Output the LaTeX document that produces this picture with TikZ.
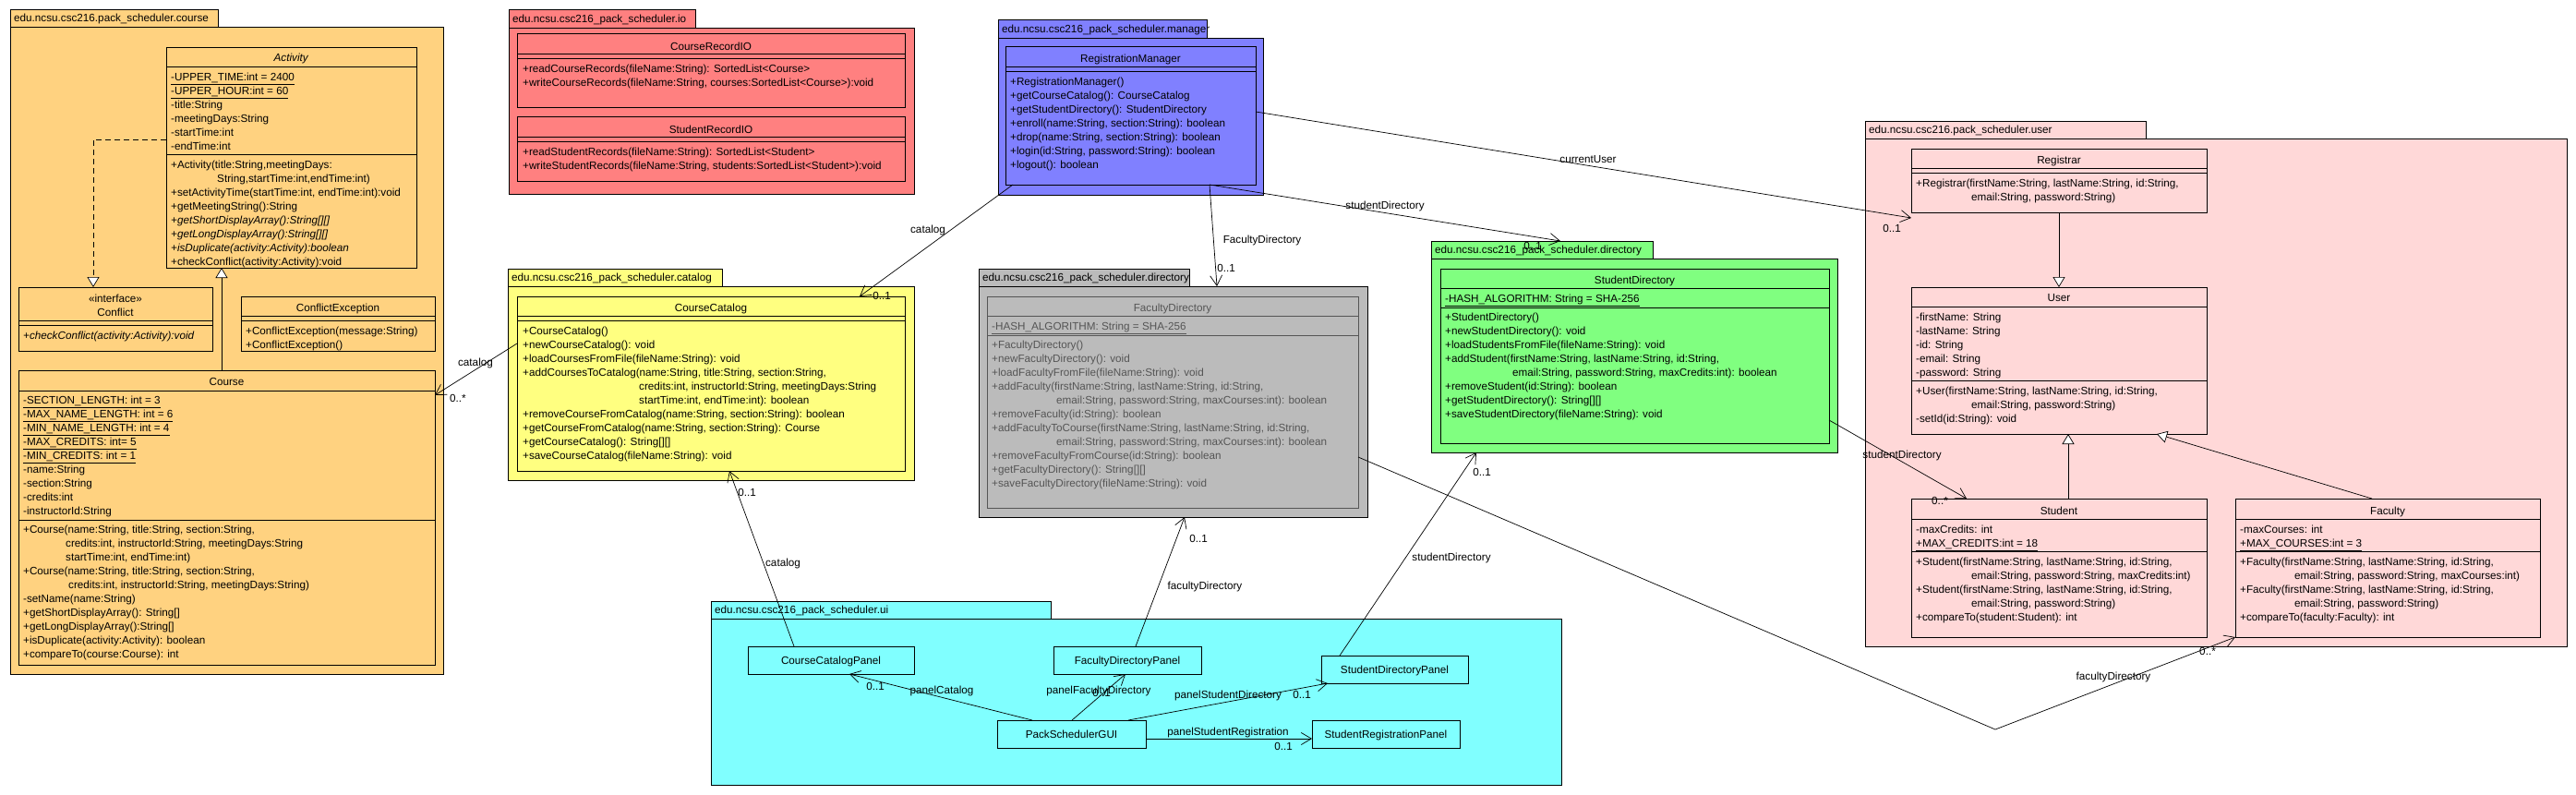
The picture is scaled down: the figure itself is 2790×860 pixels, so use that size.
\documentclass[tikz,border=0pt]{standalone}
\usepackage{fontspec}
\setmainfont{Liberation Sans}
\usetikzlibrary{arrows.meta}
\definecolor{cOrange}{HTML}{FFD280}
\definecolor{cRed}{HTML}{FF8080}
\definecolor{cBlue}{HTML}{8080FF}
\definecolor{cYellow}{HTML}{FFFF80}
\definecolor{cGray}{HTML}{BBBBBB}
\definecolor{cGreen}{HTML}{80FF80}
\definecolor{cPink}{HTML}{FFD8D8}
\definecolor{cCyan}{HTML}{80FFFF}
\definecolor{fdInk}{HTML}{555555}
\newcommand\fs{\fontsize{11.7}{15}\selectfont}
\tikzset{
  pkgbox/.style={draw=black, line width=1pt, anchor=north west, inner sep=0pt, outer sep=0pt},
  clsbox/.style={draw=black, line width=1pt, anchor=north west, inner sep=0pt, outer sep=0pt},
  sepl/.style={line width=0.8pt},
  txt/.style={anchor=north west, inner sep=0pt, align=left, font=\fs},
  ttlst/.style={anchor=base, inner sep=0pt, font=\fs},
  labst/.style={anchor=base, inner sep=0pt, font=\fs},
  tabtxt/.style={anchor=base west, inner sep=0pt, font=\fs},
  uib/.style={draw=black, line width=1pt, inner sep=0pt, outer sep=0pt, font=\fs, text height=8.4pt, text depth=0pt},
  assoc/.style={line width=0.7pt, -{Straight Barb[length=11pt,width=13pt,line width=0.7pt]}},
  gen/.style={line width=0.7pt, -{Triangle[open,length=11pt,width=13pt,line width=0.7pt,fill=white]}},
  real/.style={line width=0.7pt, dash pattern=on 6pt off 4pt, -{Triangle[open,length=11pt,width=13pt,line width=0.7pt,fill=white]}},
}
% package: name, colour, x1, ytab, xtab2, ybody, x2, y2, label
\newcommand\pkg[9]{%
  \node[pkgbox,fill=#2,minimum width={(#5-#3)*1pt},minimum height={(#6-#4)*1pt}] (#1tab) at (#3,#4) {};
  \node[pkgbox,fill=#2,minimum width={(#7-#3)*1pt},minimum height={(#8-#6)*1pt}] (#1) at (#3,#6) {};
  \node[tabtxt] at ({#3+4},{(#4+#6)/2+4.2}) {#9};}
% class box: name, style, x1, y1, x2, y2
\newcommand\cls[6]{\node[clsbox,#2,minimum width={(#5-#3)*1pt},minimum height={(#6-#4)*1pt}] (#1) at (#3,#4) {};}
\newcommand\hsep[2]{\draw[sepl] (#1.west |- 0,#2) -- (#1.east |- 0,#2);}
\newcommand\ttl[3]{\node[ttlst] at (#1,{#2+4.2}) {#3};}
\newcommand\lns[3]{\node[txt] at (#1,{#2-5.7}) {\rule{0pt}{9.9pt}#3};}
\newcommand\lab[3]{\node[labst] at (#1,{#2+4.2}) {#3};}
\begin{document}
\begin{tikzpicture}[x=1pt,y=-1pt]
\fill[white] (0,0) rectangle (2790,860);
\useasboundingbox (0,0) rectangle (2790,860);

% ---------- packages ----------
\pkg{pcourse}{cOrange}{11}{10}{236}{29}{480}{730}{edu.ncsu.csc216.pack\_scheduler.course}
\pkg{pio}{cRed}{551}{10}{753}{30}{990}{210}{edu.ncsu.csc216\_pack\_scheduler.io}
\pkg{pman}{cBlue}{1081}{21}{1307}{41}{1368}{211}{edu.ncsu.csc216\_pack\_scheduler.manager}
\pkg{pcat}{cYellow}{550}{291}{782}{310}{990}{520}{edu.ncsu.csc216\_pack\_scheduler.catalog}
\pkg{pfdir}{cGray}{1060}{291}{1288}{310}{1481}{560}{edu.ncsu.csc216\_pack\_scheduler.directory}
\pkg{psdir}{cGreen}{1550}{261}{1790}{280}{1990}{490}{edu.ncsu.csc216\_pack\_scheduler.directory}
\pkg{puser}{cPink}{2020}{131}{2324}{150}{2780}{700}{edu.ncsu.csc216.pack\_scheduler.user}
\pkg{pui}{cCyan}{770}{651}{1138}{670}{1691}{850}{edu.ncsu.csc216\_pack\_scheduler.ui}

% ---------- course package ----------
\cls{act}{}{180}{51}{451}{290}
\hsep{act}{72}\hsep{act}{167}
\ttl{315.5}{62}{\textit{Activity}}
\lns{185}{83}{\underline{-UPPER\_TIME:int = 2400}\\\underline{-UPPER\_HOUR:int = 60}\\-title:String\\-meetingDays:String\\-startTime:int\\-endTime:int}
\lns{185}{178}{+Activity(title:String,meetingDays:\\\hspace*{50pt}String,startTime:int,endTime:int)\\+setActivityTime(startTime:int, endTime:int):void\\+getMeetingString():String\\\textit{+getShortDisplayArray():String[][]}\\\textit{+getLongDisplayArray():String[][]}\\\textit{+isDuplicate(activity:Activity):boolean}\\+checkConflict(activity:Activity):void}

\cls{conf}{}{20}{311}{230}{380}
\hsep{conf}{347}\hsep{conf}{352}
\ttl{125}{323}{«interface»}
\ttl{125}{338}{Conflict}
\lns{25}{363}{\textit{+checkConflict(activity:Activity):void}}

\cls{cexc}{}{261}{321}{471}{380}
\hsep{cexc}{342}\hsep{cexc}{347}
\ttl{366}{333}{ConflictException}
\lns{266}{358}{+ConflictException(message:String)\\+ConflictException()}

\cls{course}{}{20}{401}{471}{720}
\hsep{course}{423}\hsep{course}{563}
\ttl{245.5}{413}{Course}
\lns{25}{433}{\underline{-SECTION\_LENGTH: int = 3}\\\underline{-MAX\_NAME\_LENGTH: int = 6}\\\underline{-MIN\_NAME\_LENGTH: int = 4}\\\underline{-MAX\_CREDITS: int= 5}\\\underline{-MIN\_CREDITS: int = 1}\\-name:String\\-section:String\\-credits:int\\-instructorId:String}
\lns{25}{573}{+Course(name:String, title:String, section:String,\\\hspace*{46pt}credits:int, instructorId:String, meetingDays:String\\\hspace*{46pt}startTime:int, endTime:int)\\+Course(name:String, title:String, section:String,\\\hspace*{49pt}credits:int, instructorId:String, meetingDays:String)\\-setName(name:String)\\+getShortDisplayArray(): String[]\\+getLongDisplayArray():String[]\\+isDuplicate(activity:Activity): boolean\\+compareTo(course:Course): int}

% ---------- io package ----------
\cls{crio}{}{560}{36}{980}{116}
\hsep{crio}{58}\hsep{crio}{63}
\ttl{770}{50}{CourseRecordIO}
\lns{566}{74}{+readCourseRecords(fileName:String): SortedList<Course>\\+writeCourseRecords(fileName:String, courses:SortedList<Course>):void}

\cls{srio}{}{560}{126}{980}{196}
\hsep{srio}{148}\hsep{srio}{153}
\ttl{770}{140}{StudentRecordIO}
\lns{566}{164}{+readStudentRecords(fileName:String): SortedList<Student>\\+writeStudentRecords(fileName:String, students:SortedList<Student>):void}

% ---------- manager package ----------
\cls{rm}{}{1089}{50}{1360}{200}
\hsep{rm}{72}\hsep{rm}{77}
\ttl{1224.5}{63}{RegistrationManager}
\lns{1094}{88}{+RegistrationManager()\\+getCourseCatalog(): CourseCatalog\\+getStudentDirectory(): StudentDirectory\\+enroll(name:String, section:String): boolean\\+drop(name:String, section:String): boolean\\+login(id:String, password:String): boolean\\+logout(): boolean}

% ---------- catalog package ----------
\cls{cc}{}{560}{321}{980}{510}
\hsep{cc}{342}\hsep{cc}{347}
\ttl{770}{333}{CourseCatalog}
\lns{566}{358}{+CourseCatalog()\\+newCourseCatalog(): void\\+loadCoursesFromFile(fileName:String): void\\+addCoursesToCatalog(name:String, title:String, section:String,\\\hspace*{126pt}credits:int, instructorId:String, meetingDays:String\\\hspace*{126pt}startTime:int, endTime:int): boolean\\+removeCourseFromCatalog(name:String, section:String): boolean\\+getCourseFromCatalog(name:String, section:String): Course\\+getCourseCatalog(): String[][]\\+saveCourseCatalog(fileName:String): void}

% ---------- faculty directory package ----------
\begin{scope}[color=fdInk]
\cls{fd}{draw=fdInk}{1069}{321}{1471}{550}
\hsep{fd}{342}\hsep{fd}{363}
\ttl{1270}{333}{FacultyDirectory}
\lns{1074}{353}{\underline{-HASH\_ALGORITHM: String = SHA-256}}
\lns{1074}{373}{+FacultyDirectory()\\+newFacultyDirectory(): void\\+loadFacultyFromFile(fileName:String): void\\+addFaculty(firstName:String, lastName:String, id:String,\\\hspace*{70pt}email:String, password:String, maxCourses:int): boolean\\+removeFaculty(id:String): boolean\\+addFacultyToCourse(firstName:String, lastName:String, id:String,\\\hspace*{70pt}email:String, password:String, maxCourses:int): boolean\\+removeFacultyFromCourse(id:String): boolean\\+getFacultyDirectory(): String[][]\\+saveFacultyDirectory(fileName:String): void}
\end{scope}

% ---------- student directory package ----------
\cls{sd}{}{1560}{291}{1981}{480}
\hsep{sd}{312}\hsep{sd}{333}
\ttl{1770.5}{303}{StudentDirectory}
\lns{1565}{323}{\underline{-HASH\_ALGORITHM: String = SHA-256}}
\lns{1565}{343}{+StudentDirectory()\\+newStudentDirectory(): void\\+loadStudentsFromFile(fileName:String): void\\+addStudent(firstName:String, lastName:String, id:String,\\\hspace*{73pt}email:String, password:String, maxCredits:int): boolean\\+removeStudent(id:String): boolean\\+getStudentDirectory(): String[][]\\+saveStudentDirectory(fileName:String): void}

% ---------- user package ----------
\cls{reg}{}{2070}{161}{2390}{230}
\hsep{reg}{182}\hsep{reg}{187}
\ttl{2230}{173}{Registrar}
\lns{2075}{198}{+Registrar(firstName:String, lastName:String, id:String,\\\hspace*{60pt}email:String, password:String)}

\cls{user}{}{2070}{311}{2390}{470}
\hsep{user}{332}\hsep{user}{412}
\ttl{2230}{322}{User}
\lns{2075}{343}{-firstName: String\\-lastName: String\\-id: String\\-email: String\\-password: String}
\lns{2075}{423}{+User(firstName:String, lastName:String, id:String,\\\hspace*{60pt}email:String, password:String)\\-setId(id:String): void}

\cls{stu}{}{2070}{540}{2390}{690}
\hsep{stu}{562}\hsep{stu}{597}
\ttl{2230}{553}{Student}
\lns{2075}{573}{-maxCredits: int\\\underline{+MAX\_CREDITS:int = 18}}
\lns{2075}{608}{+Student(firstName:String, lastName:String, id:String,\\\hspace*{60pt}email:String, password:String, maxCredits:int)\\+Student(firstName:String, lastName:String, id:String,\\\hspace*{60pt}email:String, password:String)\\+compareTo(student:Student): int}

\cls{fac}{}{2421}{540}{2751}{690}
\hsep{fac}{562}\hsep{fac}{597}
\ttl{2586}{553}{Faculty}
\lns{2426}{573}{-maxCourses: int\\\underline{+MAX\_COURSES:int = 3}}
\lns{2426}{608}{+Faculty(firstName:String, lastName:String, id:String,\\\hspace*{59pt}email:String, password:String, maxCourses:int)\\+Faculty(firstName:String, lastName:String, id:String,\\\hspace*{59pt}email:String, password:String)\\+compareTo(faculty:Faculty): int}

% ---------- ui package ----------
\node[uib, minimum width=180pt, minimum height=30pt] (ccp) at (900,715) {CourseCatalogPanel};
\node[uib, minimum width=160pt, minimum height=30pt] (fdp) at (1221,715) {FacultyDirectoryPanel};
\node[uib, minimum width=159pt, minimum height=30pt] (sdp) at (1510.5,725) {StudentDirectoryPanel};
\node[uib, minimum width=161pt, minimum height=30pt] (psg) at (1160.5,795) {PackSchedulerGUI};
\node[uib, minimum width=160pt, minimum height=30pt] (srp) at (1501,795) {StudentRegistrationPanel};

% ---------- connectors ----------
\draw[real] (act.west |- 0,151) -| (conf.north -| 101,0);
\draw[gen] ([xshift=-5.5pt]course.north) -- ([xshift=-5.5pt]course.north |- act.south);
\draw[assoc] (cc.west |- 0,372) -- (course.east |- 0,428);
\draw[assoc] ([xshift=8pt]rm.south west) -- (cc.north -| 931,0);
\draw[assoc] (rm.south -| 1310,0) -- (pfdir.north -| 1318,0);
\draw[assoc] (rm.south -| 1310,0) -- (psdirtab.north -| 1690,0);
\draw[assoc] (rm.east |- 0,121) -- (reg.west |- 0,236);
\draw[assoc] (sd.east |- 0,455) -- (stu.north -| 2130,0);
\draw[assoc] (fd.east |- 0,495) -- (2161,790) -- (fac.south west);
\draw[assoc] (ccp.north -| 860,0) -- (cc.south -| 790,0);
\draw[assoc] (fdp.north -| 1230,0) -- (pfdir.south -| 1283,0);
\draw[assoc] (sdp.north -| 1451,0) -- (psdir.south -| 1599,0);
\draw[assoc] (psg.north -| 1118,0) -- (ccp.south -| 920,0);
\draw[assoc] (psg.north -| 1161,0) -- (fdp.south -| 1219,0);
\draw[assoc] (psg.north -| 1222,0) -- (sdp.south -| 1438,0);
\draw[assoc] (psg.east |- 0,800) -- (srp.west |- 0,800);
\draw[gen] (reg.south) -- (user.north);
\draw[gen] (stu.north -| 2240,0) -- (user.south -| 2240,0);
\draw[gen] (fac.north -| 2569,0) -- (user.south -| 2336,0);

% ---------- connector labels ----------
\lab{515}{392}{catalog}\lab{496}{431}{0..*}
\lab{1005}{248}{catalog}\lab{955}{320}{0..1}
\lab{1367}{259}{FacultyDirectory}\lab{1328}{290}{0..1}
\lab{1500}{222}{studentDirectory}\lab{1660}{266}{0..1}
\lab{1720}{172}{currentUser}\lab{2049}{247}{0..1}
\lab{2060}{492}{studentDirectory}\lab{2101}{542}{0..*}
\lab{2289}{732}{facultyDirectory}\lab{2391}{705}{0..*}
\lab{848}{609}{catalog}\lab{809}{533}{0..1}
\lab{1305}{634}{facultyDirectory}\lab{1298}{583}{0..1}
\lab{1572}{603}{studentDirectory}\lab{1605}{511}{0..1}
\lab{1020}{747}{panelCatalog}\lab{948}{743}{0..1}
\lab{1190}{747}{panelFacultyDirectory}\lab{1193}{750}{0..1}
\lab{1330}{752}{panelStudentDirectory}\lab{1410}{752}{0..1}
\lab{1330}{792}{panelStudentRegistration}\lab{1390}{808}{0..1}
\end{tikzpicture}
\end{document}
